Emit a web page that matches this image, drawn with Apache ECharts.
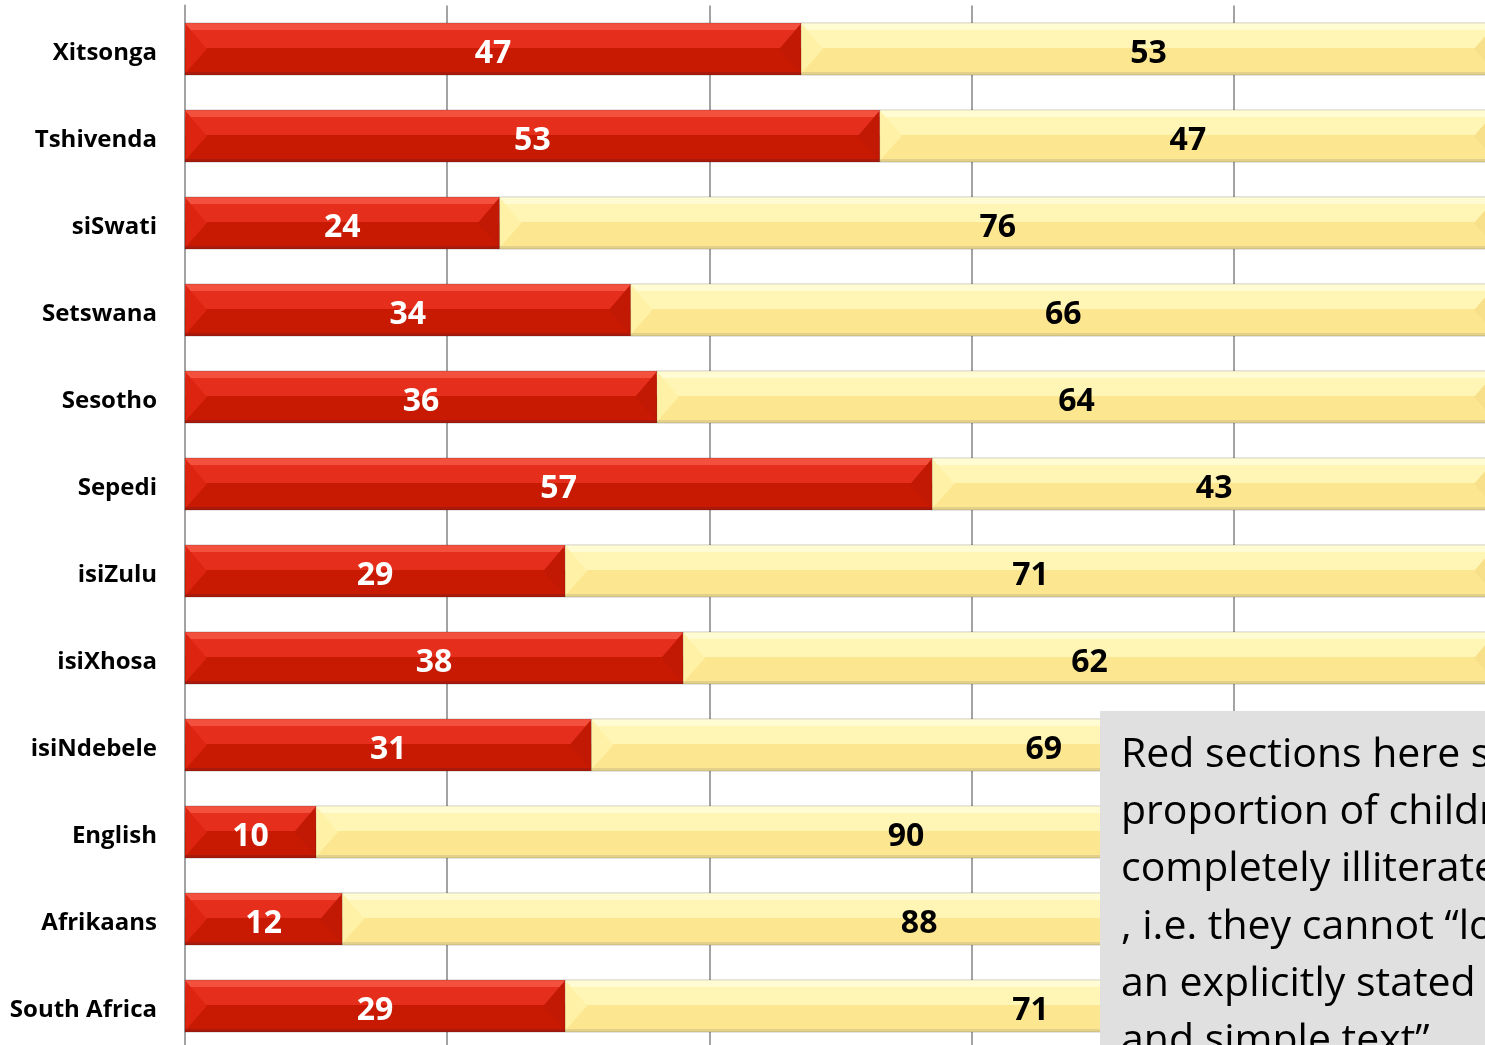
<!DOCTYPE html>
<html>
<head>
<meta charset="utf-8">
<script src="https://cdn.jsdelivr.net/npm/echarts@6/dist/echarts.min.js"></script>
<style>
  html, body { margin: 0; padding: 0; background: #ffffff; }
  #chart { width: 1485px; height: 1045px; }
</style>
</head>
<body>
<div id="chart"></div>
<script>
// Reading literacy by test language (%), red = completely illiterate
const categories = ['Xitsonga', 'Tshivenda', 'siSwati', 'Setswana', 'Sesotho', 'Sepedi',
  'isiZulu', 'isiXhosa', 'isiNdebele', 'English', 'Afrikaans', 'South Africa'];
const illiterate = [47, 53, 24, 34, 36, 57, 29, 38, 31, 10, 12, 29];
const literate = [53, 47, 76, 66, 64, 43, 71, 62, 69, 90, 88, 71];
const xTicks = [0, 20, 40, 60, 80, 100];

const noteLines = [
  'Red sections here show the',
  'proportion of children who are',
  'completely illiterate in reading',
  ', i.e. they cannot \u201clocate',
  'an explicitly stated fact in a short',
  'and simple text\u201d'
];

// bevelled bar palettes
const palettes = {
  red: { stripe: '#f4503e', top: '#e62e1c', bottom: '#c81a02', edge: '#a91a0c',
         left: '#dc2410', right: '#c21904', text: '#ffffff' },
  cream: { stripe: '#fffbd2', top: '#fff6b6', bottom: '#fce68f', edge: '#e3d08a',
           left: '#fff2a6', right: '#f8e08a', text: '#000000' }
};

function renderSegment(params, api) {
  const cat = api.value(0);
  const start = api.value(1);
  const end = api.value(2);
  const label = api.value(3);
  const pal = palettes[params.seriesIndex === 0 ? 'red' : 'cream'];
  const p0 = api.coord([start, cat]);
  const p1 = api.coord([end, cat]);
  const band = api.size([0, 1])[1];
  const h = band * 0.6;
  const x0 = p0[0], x1 = p1[0];
  const y0 = p0[1] - h / 2, y1 = y0 + h, ym = p0[1];
  const b = Math.min(h * 0.42, (x1 - x0) / 2);
  return {
    type: 'group',
    children: [
      {
        type: 'rect',
        shape: { x: x0, y: y0, width: x1 - x0, height: h },
        style: {
          fill: new echarts.graphic.LinearGradient(0, 0, 0, 1, [
            { offset: 0, color: pal.stripe },
            { offset: 0.14, color: pal.stripe },
            { offset: 0.14, color: pal.top },
            { offset: 0.48, color: pal.top },
            { offset: 0.48, color: pal.bottom },
            { offset: 0.93, color: pal.bottom },
            { offset: 0.93, color: pal.edge },
            { offset: 1, color: pal.edge }
          ]),
          stroke: 'rgba(0,0,0,0.18)',
          lineWidth: 1
        }
      },
      {
        type: 'polygon',
        shape: { points: [[x0 + 0.5, y0 + 1], [x0 + b, ym], [x0 + 0.5, y1 - 2]] },
        style: { fill: pal.left }
      },
      {
        type: 'polygon',
        shape: { points: [[x1 - 0.5, y0 + 1], [x1 - b, ym], [x1 - 0.5, y1 - 2]] },
        style: { fill: pal.right }
      },
      {
        type: 'text',
        style: {
          x: (x0 + x1) / 2,
          y: ym + 5,
          text: String(label),
          fill: pal.text,
          font: 'bold 32px "Open Sans"',
          align: 'center',
          verticalAlign: 'middle'
        },
        z2: 10
      }
    ]
  };
}

const redData = categories.map((c, i) => [i, 0, illiterate[i], illiterate[i]]);
const creamData = categories.map((c, i) => [i, illiterate[i], illiterate[i] + literate[i], literate[i]]);

const chart = echarts.init(document.getElementById('chart'), null, { renderer: 'canvas' });
chart.setOption({
  animation: false,
  backgroundColor: '#ffffff',
  grid: {
    left: 185, top: 5.5, width: 1311, height: 1044,
    containLabel: false,
    outerBoundsMode: 'none'
  },
  xAxis: {
    type: 'value',
    min: xTicks[0],
    max: xTicks[xTicks.length - 1],
    interval: 20,
    axisLabel: { show: false },
    axisTick: { show: false },
    axisLine: { show: false },
    splitLine: { show: true, lineStyle: { color: '#a3a3a3', width: 2 } }
  },
  yAxis: {
    type: 'category',
    data: categories,
    inverse: true,
    axisTick: { show: false },
    axisLine: { show: true, lineStyle: { color: '#a3a3a3', width: 2 } },
    axisLabel: {
      margin: 28,
      formatter: (v) => '{n|' + v + '}',
      rich: {
        n: {
          color: '#000000',
          fontFamily: 'Open Sans',
          fontWeight: 'bold',
          fontSize: 24,
          padding: [8, 0, 0, 0]
        }
      }
    }
  },
  series: [
    { type: 'custom', renderItem: renderSegment, data: redData, encode: { x: [1, 2], y: 0 }, z: 3 },
    { type: 'custom', renderItem: renderSegment, data: creamData, encode: { x: [1, 2], y: 0 }, z: 3 }
  ],
  graphic: [
    {
      type: 'rect',
      left: 1100,
      top: 711,
      shape: { width: 400, height: 340 },
      style: { fill: '#e0e0e0' },
      z: 20
    }
  ].concat(noteLines.map((line, i) => ({
    type: 'text',
    x: 1121,
    y: 755 + i * 57.3,
    style: {
      text: line,
      fill: '#000000',
      font: '41px "Open Sans"',
      verticalAlign: 'middle'
    },
    z: 21
  })))
});
</script>
</body>
</html>
